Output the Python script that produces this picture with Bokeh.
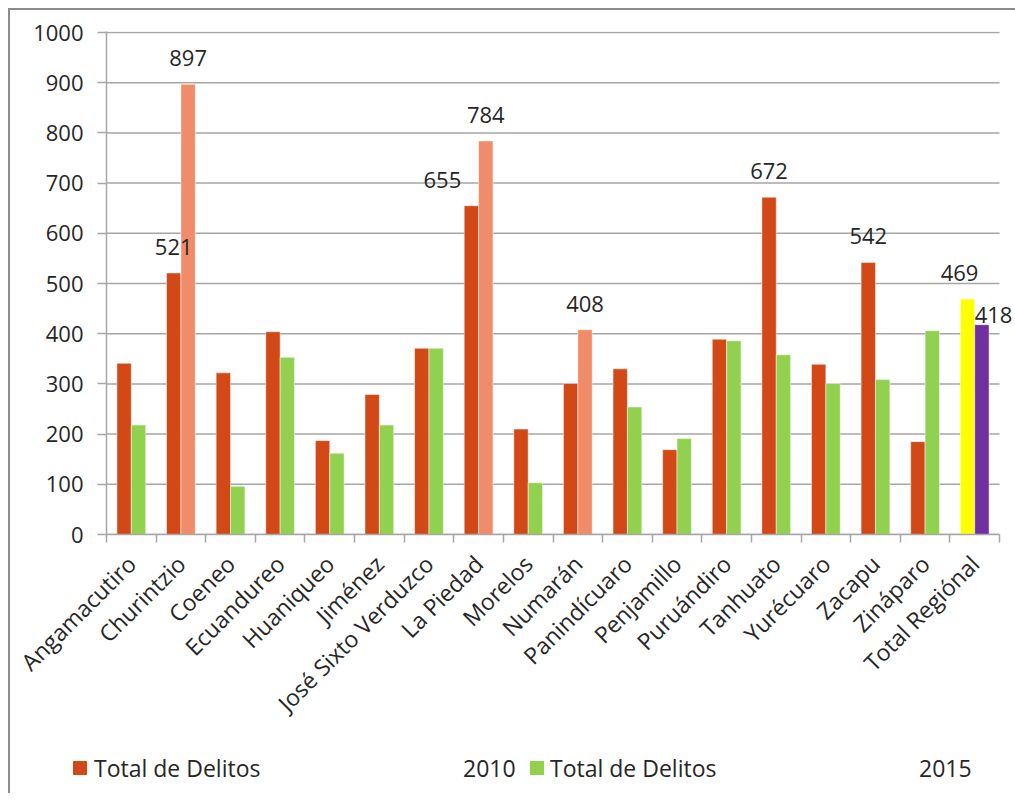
import math
from bokeh.plotting import figure
from bokeh.models import FixedTicker, ColumnDataSource, LabelSet, Label, Range1d, Div
from bokeh.layouts import column
from bokeh.core.properties import value
from bokeh.embed import file_html
from bokeh.resources import INLINE

# ---------------- data ----------------
categories = ["Angamacutiro", "Churintzio", "Coeneo", "Ecuandureo", "Huaniqueo",
              "Jiménez", "José Sixto Verduzco", "La Piedad", "Morelos", "Numarán",
              "Panindícuaro", "Penjamillo", "Puruándiro", "Tanhuato", "Yurécuaro",
              "Zacapu", "Zináparo", "Total Regiónal"]
delitos_2010 = [341, 521, 322, 404, 187, 279, 371, 655, 210, 301, 330, 169, 389, 672, 339, 542, 185, 469]
delitos_2015 = [218, 897, 96, 353, 162, 218, 371, 784, 103, 408, 254, 191, 386, 358, 301, 309, 406, 418]
y_ticks = [0, 100, 200, 300, 400, 500, 600, 700, 800, 900, 1000]
legend_labels = ["Total de Delitos", "Total de Delitos"]
legend_years = ["2010", "2015"]
# data labels shown on the chart: (category index, series year)
labelled = [(1, "2010"), (1, "2015"), (7, "2010"), (7, "2015"), (9, "2015"),
            (13, "2010"), (15, "2010"), (17, "2010")]
labelled_right = [(17, "2015")]

# ---------------- style ----------------
FONT = "Open Sans"
NUM_SIZE = "22px"
TXT_SIZE = "23px"
TXT = "#262626"
GRID = "#a6a6a6"
C2010 = "#D34817"
C2015 = "#92D050"
SALMON = "#F08C69"
YELLOW = "#FFFF00"
PURPLE = "#7030A0"
salmon_idx = {1, 7, 9}
n = len(categories)
col2010 = [YELLOW if i == n - 1 else C2010 for i in range(n)]
col2015 = [PURPLE if i == n - 1 else (SALMON if i in salmon_idx else C2015) for i in range(n)]
BW = 0.29
label_dx = {(7, "2010"): -29, (17, "2010"): -8}

# plot frame: categories span 893 px, frame runs 16 px further to the canvas edge
W, H = 1005, 738
ML, MT, MB = 96, 21, 214
frame_w = W - ML
x_end = n * frame_w / 893.0

p = figure(width=W, height=H, x_range=Range1d(0, x_end), y_range=Range1d(0, 1002),
           output_backend="svg", toolbar_location=None,
           min_border_left=ML, min_border_right=0, min_border_top=MT, min_border_bottom=MB)
p.outline_line_color = None
p.background_fill_color = "white"
p.border_fill_color = "white"
p.xgrid.visible = False
p.ygrid.visible = False

# horizontal gridlines (limited to the category span)
p.segment(x0=[0] * len(y_ticks), x1=[n] * len(y_ticks), y0=y_ticks, y1=y_ticks,
          line_color=GRID, line_width=1.5)

centers = [i + 0.5 for i in range(n)]
src = ColumnDataSource(dict(
    x10=[c - BW / 2 for c in centers], x15=[c + BW / 2 for c in centers],
    v10=delitos_2010, v15=delitos_2015, c10=col2010, c15=col2015))
p.vbar(x="x10", top="v10", bottom=0, width=BW, fill_color="c10", line_color="white",
       line_width=0.5, source=src)
p.vbar(x="x15", top="v15", bottom=0, width=BW, fill_color="c15", line_color="white",
       line_width=0.5, source=src)

# y axis
yax = p.yaxis[0]
yax.ticker = FixedTicker(ticks=y_ticks)
yax.axis_line_color = GRID
yax.axis_line_width = 1.5
yax.major_tick_line_color = GRID
yax.major_tick_line_width = 1.5
yax.major_tick_out = 9
yax.major_tick_in = 0
yax.minor_tick_line_color = None
yax.major_label_standoff = 14
yax.major_label_text_font = FONT
yax.major_label_text_font_size = NUM_SIZE
yax.major_label_text_color = TXT

# x axis
xax = p.xaxis[0]
xax.bounds = (0, n)
xax.ticker = FixedTicker(ticks=centers, minor_ticks=list(range(n + 1)))
xax.major_label_overrides = {c: categories[i] for i, c in enumerate(centers)}
xax.axis_line_color = GRID
xax.axis_line_width = 1.5
xax.major_tick_line_color = None
xax.major_tick_out = 0
xax.major_tick_in = 0
xax.minor_tick_line_color = GRID
xax.minor_tick_line_width = 1.5
xax.minor_tick_out = 8
xax.minor_tick_in = 0
xax.major_label_orientation = math.pi / 4
xax.major_label_standoff = 17
xax.major_label_text_font = FONT
xax.major_label_text_font_size = TXT_SIZE
xax.major_label_text_color = TXT

# data labels
lx, ly, lt, ldx = [], [], [], []
for i, yr in labelled:
    v = delitos_2010[i] if yr == "2010" else delitos_2015[i]
    lx.append(centers[i] + (-BW / 2 if yr == "2010" else BW / 2))
    ly.append(v)
    lt.append(str(v))
    ldx.append(label_dx.get((i, yr), 0))
lsrc = ColumnDataSource(dict(x=lx, y=ly, t=lt, dx=ldx))
p.add_layout(LabelSet(x="x", y="y", text="t", x_offset="dx", y_offset=18, source=lsrc,
                      text_align="center", text_baseline="alphabetic",
                      text_font=value(FONT), text_font_size=NUM_SIZE, text_color=TXT))
for i, yr in labelled_right:
    v = delitos_2015[i]
    p.add_layout(Label(x=centers[i], y=v, text=str(v), y_offset=10,
                       text_align="left", text_baseline="alphabetic",
                       text_font=FONT, text_font_size=NUM_SIZE, text_color=TXT))

# legend strip as HTML (positions in px inside the strip)
sq_left = [63, 520]
lab_left = [84, 540]
year_left = [453, 909]
sq_cols = [C2010, C2015]
parts = []
for k in range(2):
    parts.append(f'<span style="position:absolute;left:{sq_left[k]}px;top:13px;width:14px;'
                 f'height:14px;background:{sq_cols[k]}"></span>')
    parts.append(f'<span style="position:absolute;left:{lab_left[k]}px;top:0px;'
                 f'line-height:40px;white-space:nowrap">{legend_labels[k]}</span>')
    parts.append(f'<span style="position:absolute;left:{year_left[k]}px;top:0px;'
                 f'line-height:40px;white-space:nowrap">{legend_years[k]}</span>')
html = (f'<div style="position:relative;width:{W}px;height:45px;font-family:\'{FONT}\';'
        f'font-size:{TXT_SIZE};color:{TXT};background:white">' + "".join(parts) + "</div>")
legend_div = Div(text=html, width=W, height=45, margin=0)

layout = column(p, legend_div, margin=(8, 0, 0, 8),
                styles={"border-top": "2px solid #8c8c8c", "border-left": "2px solid #8c8c8c"})
open("out.html", "w").write(file_html(layout, INLINE))
